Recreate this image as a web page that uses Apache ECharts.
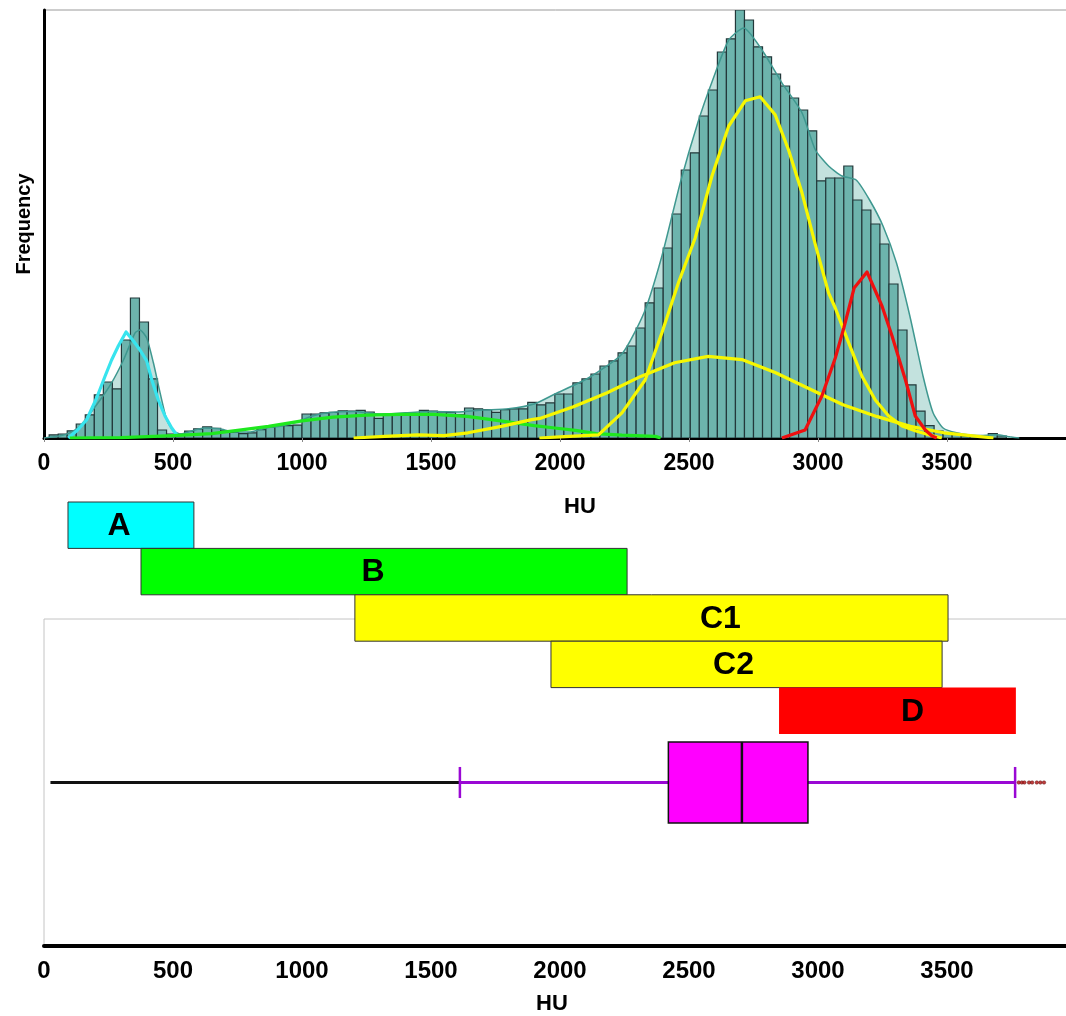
<!DOCTYPE html>
<html>
<head>
<meta charset="utf-8">
<title>HU distribution</title>
<script src="https://cdn.jsdelivr.net/npm/echarts@6/dist/echarts.min.js"></script>
<style>
  html, body { margin: 0; padding: 0; background: #fff; overflow: hidden; }
  #chart { width: 1066px; height: 1016px; }
</style>
</head>
<body>
<div id="chart"></div>
<script>
// ---- Histogram of HU values (bin width 35 HU) ----
const binStart = 20;
const binWidth = 35;
const binFreq = [
  8, 10, 18, 35, 58, 108, 140, 123, 245, 350,
  290, 148, 20, 10, 10, 17, 23, 28, 24, 18,
  14, 11, 13, 21, 27, 31, 31, 32, 60, 60,
  63, 64, 68, 67, 69, 65, 49, 60, 60, 58,
  58, 69, 67, 65, 64, 58, 75, 73, 71, 64,
  71, 73, 73, 89, 83, 88, 110, 110, 138, 148,
  160, 180, 193, 213, 230, 275, 338, 375, 475, 560,
  670, 713, 805, 870, 965, 998, 1070, 1045, 978, 953,
  910, 880, 850, 820, 768, 643, 650, 650, 680, 595,
  570, 535, 485, 385, 270, 133, 67, 31, 17, 13,
  11, 5, 4, 3, 11, 5
];

// ---- Kernel density of the whole distribution ----
const kdeHU = [0, 60, 100, 140, 204, 262, 308, 353, 372, 398, 424, 450, 476, 501, 527, 560, 620, 680, 740, 800,
  860, 920, 980, 1040, 1100, 1200, 1300, 1400, 1500, 1600, 1700, 1800, 1900, 1980, 2110, 2240, 2327, 2395, 2467, 2535,
  2589, 2654, 2712, 2783, 2860, 2938, 2990, 3041, 3093, 3148, 3200, 3252, 3304, 3356, 3407, 3446, 3485, 3537, 3615, 3692,
  3744, 3780];
const kdeFreq = [0, 5, 13, 30, 83, 138, 195, 263, 270, 250, 188, 113, 45, 18, 10, 15, 25, 23, 15, 15,
  25, 30, 40, 55, 63, 66, 60, 63, 66, 65, 70, 73, 85, 110, 150, 210, 315, 455, 640, 790,
  890, 995, 1025, 970, 888, 813, 720, 680, 655, 645, 595, 530, 438, 305, 155, 63, 25, 13, 6, 8,
  3, 0];

// ---- Fitted components ----
const compAHU = [94, 127, 165, 204, 237, 262, 288, 318, 346, 372, 398, 418, 443, 469, 495, 514];
const compAFreq = [0, 18, 45, 100, 155, 195, 230, 265, 243, 220, 193, 145, 95, 55, 25, 8];

const compBHU = [100, 300, 500, 650, 750, 870, 1000, 1120, 1250, 1380, 1510, 1640, 1770, 1900, 1980, 2060, 2140, 2240, 2370, 2390];
const compBFreq = [0, 1, 6, 11, 19, 29, 43, 52, 57, 59, 59, 54, 43, 31, 25, 19, 11, 7, 4, 0];

const compC1HU = [1200, 1320, 1450, 1550, 1643, 1773, 1890, 1922, 2052, 2183, 2313, 2444, 2574, 2705, 2836, 2966, 3097, 3227, 3358, 3488, 3619, 3680];
const compC1Freq = [0, 4, 8, 6, 13, 29, 46, 49, 78, 113, 154, 188, 204, 196, 163, 123, 83, 54, 29, 13, 4, 0];

const compC2HU = [1920, 2000, 2149, 2240, 2330, 2395, 2459, 2524, 2589, 2654, 2718, 2776, 2834, 2886, 2938, 2990, 3041, 3067, 3119, 3170, 3222, 3274, 3326, 3377, 3429, 3480];
const compC2Freq = [0, 3, 8, 63, 145, 263, 388, 500, 655, 780, 843, 853, 808, 720, 613, 483, 363, 325, 238, 155, 95, 55, 30, 18, 8, 0];

const compDHU = [2860, 2950, 3015, 3067, 3100, 3140, 3190, 3248, 3287, 3339, 3377, 3416, 3442, 3460];
const compDFreq = [0, 20, 105, 200, 275, 375, 415, 330, 255, 145, 55, 20, 5, 0];

// ---- HU ranges of the components ----
const rangeNames = ['A', 'B', 'C1', 'C2', 'D'];
const rangeStart = [93, 376, 1205, 1965, 2849];
const rangeEnd = [581, 2260, 3504, 3481, 3767];

// ---- Box plot: low tail, lower whisker, Q1, median, Q3, upper whisker ----
const boxStats = [25, 1612, 2420, 2705, 2961, 3764];
const outliersHigh = [3778, 3790, 3800, 3818, 3830, 3848, 3862, 3876];

// ---- Axis ----
const huTicks = [0, 500, 1000, 1500, 2000, 2500, 3000, 3500];
const HU_MAX = 4000;
const FREQ_MAX = 1070;

const FONT = "'Liberation Sans', Arial, Helvetica, sans-serif";
const PLOT_LEFT = 44;
const PLOT_WIDTH = 1032;   // axis runs past the right edge of the page
const rangeColors = ['#00ffff', '#00ff00', '#ffff00', '#ffff00', '#ff0000'];
const rangeStroke = ['#333', '#333', '#333', '#333', 'rgba(0,0,0,0)'];
const rangeLabelShift = [-12, -11, 69, -13, 15];

const pairs = (xs, ys) => xs.map((x, i) => [x, ys[i]]);

const histData = binFreq.map((f, i) => [binStart + i * binWidth, binStart + (i + 1) * binWidth, f]);

function compLine(name, xs, ys, color) {
  return {
    name, type: 'line', xAxisIndex: 0, yAxisIndex: 0,
    data: pairs(xs, ys), symbol: 'none', smooth: false, z: 4,
    lineStyle: { color, width: 3.2, join: 'round' }, silent: true
  };
}

const huLabel = v => huTicks.includes(v) ? String(v) : '';

const chart = echarts.init(document.getElementById('chart'), null, { renderer: 'canvas' });

const gridBase = { left: PLOT_LEFT, width: PLOT_WIDTH, outerBoundsMode: 'none', containLabel: false };

chart.setOption({
  animation: false,
  backgroundColor: '#ffffff',
  textStyle: { fontFamily: FONT },
  grid: [
    Object.assign({}, gridBase, { top: 10, height: 428, show: true, borderColor: '#9a9a9a', borderWidth: 1 }),
    Object.assign({}, gridBase, { top: 502, height: 232 }),
    Object.assign({}, gridBase, { top: 619, height: 327, show: true, borderColor: '#c4c4c4', borderWidth: 1 })
  ],
  xAxis: [
    {
      gridIndex: 0, type: 'value', min: 0, max: HU_MAX, interval: 500,
      axisLine: { show: true, onZero: false, lineStyle: { color: '#000', width: 3 } },
      axisTick: { show: true, length: 4, lineStyle: { color: '#888' } },
      splitLine: { show: false },
      axisLabel: { color: '#000', fontWeight: 'bold', fontSize: 23, margin: 14, fontFamily: FONT, formatter: huLabel },
      name: 'HU', nameLocation: 'middle', nameGap: 58,
      nameTextStyle: { color: '#000', fontWeight: 'bold', fontSize: 22, fontFamily: FONT, padding: [0, 0, 0, 40] }
    },
    { gridIndex: 1, type: 'value', min: 0, max: HU_MAX, show: false },
    {
      gridIndex: 2, type: 'value', min: 0, max: HU_MAX, interval: 500,
      axisLine: { show: true, onZero: false, lineStyle: { color: '#000', width: 4 } },
      axisTick: { show: false },
      splitLine: { show: false },
      axisLabel: { color: '#000', fontWeight: 'bold', fontSize: 24, margin: 13, fontFamily: FONT, formatter: huLabel },
      name: 'HU', nameLocation: 'middle', nameGap: 47,
      nameTextStyle: { color: '#000', fontWeight: 'bold', fontSize: 22, fontFamily: FONT, padding: [0, 16, 0, 0] }
    }
  ],
  yAxis: [
    {
      gridIndex: 0, type: 'value', min: 0, max: FREQ_MAX,
      axisLine: { show: true, lineStyle: { color: '#000', width: 3 } },
      axisTick: { show: false }, axisLabel: { show: false }, splitLine: { show: false },
      name: 'Frequency', nameLocation: 'middle', nameGap: 10,
      nameTextStyle: { color: '#000', fontWeight: 'bold', fontSize: 20, fontFamily: FONT }
    },
    { gridIndex: 1, type: 'category', data: rangeNames, inverse: true, show: false },
    { gridIndex: 2, type: 'category', data: ['HU'], show: false }
  ],
  series: [
    // density area behind the bars
    {
      type: 'line', xAxisIndex: 0, yAxisIndex: 0, data: pairs(kdeHU, kdeFreq),
      smooth: 0.2, symbol: 'none', z: 1, silent: true,
      lineStyle: { width: 0, opacity: 0 },
      areaStyle: { color: '#c3e2de', opacity: 1 }
    },
    // histogram bars
    {
      type: 'custom', xAxisIndex: 0, yAxisIndex: 0, z: 2, clip: true, silent: true,
      data: histData,
      encode: { x: [0, 1], y: 2 },
      renderItem: (params, api) => {
        const p0 = api.coord([api.value(0), 0]);
        const p1 = api.coord([api.value(1), api.value(2)]);
        return {
          type: 'rect',
          shape: { x: p0[0], y: p1[1], width: p1[0] - p0[0], height: p0[1] - p1[1] },
          style: { fill: '#6db4ad', stroke: '#23383a', lineWidth: 1.2 }
        };
      }
    },
    // density curve
    {
      type: 'line', xAxisIndex: 0, yAxisIndex: 0, data: pairs(kdeHU, kdeFreq),
      smooth: 0.2, symbol: 'none', z: 3, silent: true,
      lineStyle: { color: '#3f9890', width: 1.5 }
    },
    compLine('A', compAHU, compAFreq, '#38e4ee'),
    compLine('B', compBHU, compBFreq, '#1fe81f'),
    compLine('C1', compC1HU, compC1Freq, '#f7f700'),
    compLine('C2', compC2HU, compC2Freq, '#f7f700'),
    compLine('D', compDHU, compDFreq, '#ee1010'),
    // component HU ranges
    {
      type: 'custom', xAxisIndex: 1, yAxisIndex: 1, z: 5, silent: true,
      data: rangeNames.map((n, i) => [rangeStart[i], rangeEnd[i], i]),
      encode: { x: [0, 1], y: 2 },
      renderItem: (params, api) => {
        const i = api.value(2);
        const s = api.coord([api.value(0), i]);
        const e = api.coord([api.value(1), i]);
        const h = api.size([0, 1])[1];
        return {
          type: 'rect',
          shape: { x: s[0], y: s[1] - h / 2, width: e[0] - s[0], height: h },
          style: { fill: rangeColors[i], stroke: rangeStroke[i], lineWidth: 1 },
          textContent: {
            type: 'text',
            style: { text: rangeNames[i], fill: '#000', fontSize: 32, fontWeight: 'bold', fontFamily: FONT }
          },
          textConfig: { position: 'inside', offset: [rangeLabelShift[i], 1] }
        };
      }
    },
    // box plot
    {
      type: 'custom', xAxisIndex: 2, yAxisIndex: 2, z: 5, silent: true,
      data: [boxStats.concat([0])],
      encode: { x: [0, 1, 2, 3, 4, 5], y: 6 },
      renderItem: (params, api) => {
        const px = k => api.coord([api.value(k), 0])[0];
        const y = api.coord([api.value(0), 0])[1];
        const band = api.size([0, 1])[1];
        const boxH = band * 0.248;
        const capH = band * 0.095;
        const purple = '#9a08d4';
        return {
          type: 'group',
          children: [
            { type: 'line', shape: { x1: px(0), y1: y, x2: px(1), y2: y }, style: { stroke: '#111', lineWidth: 3 } },
            { type: 'line', shape: { x1: px(1), y1: y, x2: px(2), y2: y }, style: { stroke: purple, lineWidth: 3 } },
            { type: 'line', shape: { x1: px(4), y1: y, x2: px(5), y2: y }, style: { stroke: purple, lineWidth: 3 } },
            { type: 'line', shape: { x1: px(1), y1: y - capH / 2, x2: px(1), y2: y + capH / 2 }, style: { stroke: purple, lineWidth: 2.5 } },
            { type: 'line', shape: { x1: px(5), y1: y - capH / 2, x2: px(5), y2: y + capH / 2 }, style: { stroke: purple, lineWidth: 2.5 } },
            { type: 'rect', shape: { x: px(2), y: y - boxH / 2, width: px(4) - px(2), height: boxH }, style: { fill: '#ff00ff', stroke: '#111', lineWidth: 1.5 } },
            { type: 'line', shape: { x1: px(3), y1: y - boxH / 2, x2: px(3), y2: y + boxH / 2 }, style: { stroke: '#111', lineWidth: 2.5 } }
          ]
        };
      }
    },
    // high outliers
    {
      type: 'scatter', xAxisIndex: 2, yAxisIndex: 2, z: 6, silent: true,
      data: outliersHigh.map(v => [v, 0]),
      symbol: 'circle', symbolSize: 3.5,
      itemStyle: { color: '#b01010', borderColor: '#4a0000', borderWidth: 0.5 }
    }
  ]
});
</script>
</body>
</html>
